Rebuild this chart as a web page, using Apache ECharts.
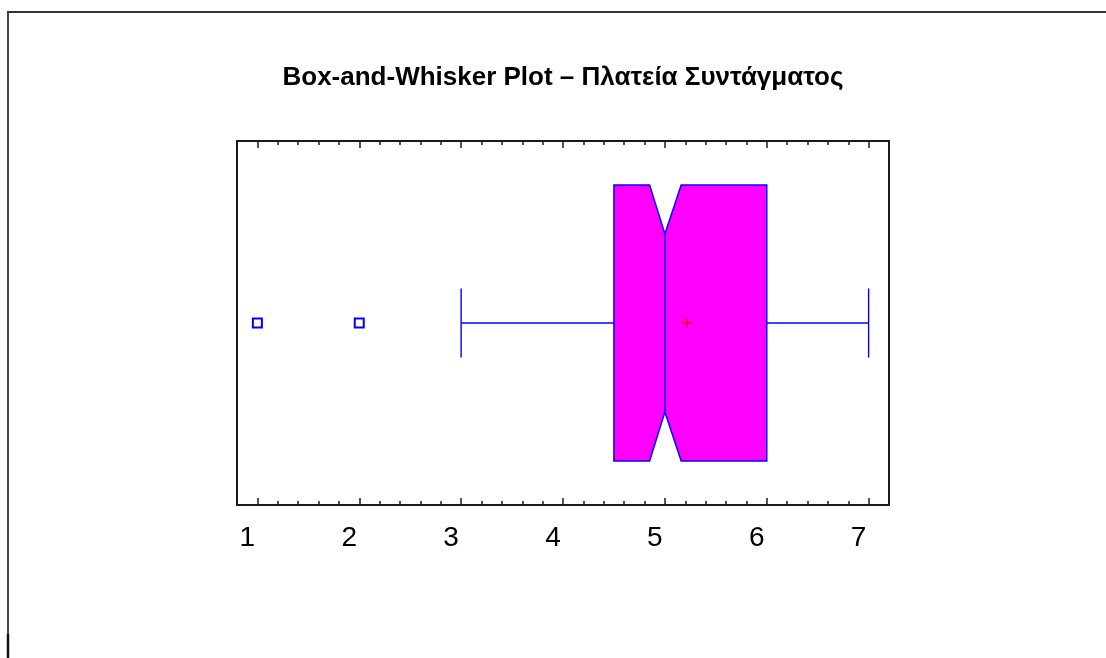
<!DOCTYPE html>
<html>
<head>
<meta charset="utf-8">
<title>Box-and-Whisker Plot</title>
<script src="https://cdn.jsdelivr.net/npm/echarts@6/dist/echarts.min.js"></script>
<style type="text/css">
  html, body {margin:0; padding:0; background:#fff;}
  #chart {width:1106px; height:658px;}
</style>
</head>
<body>
<div id="chart"></div>
<script type="text/javascript">
  // data
  var groupName = 'Πλατεία Συντάγματος';
  var xTicks = [1, 2, 3, 4, 5, 6, 7];
  var boxStats = [3, 4.5, 5, 6, 7];      // lower whisker, Q1, median, Q3, upper whisker
  var notchLimits = [4.85, 5.16];        // median notch
  var meanValue = [5.22];
  var outliers = [1, 2];

  // box geometry in y-axis units (axis runs -1..1)
  var BOX_H = 0.758, NOTCH_H = 0.489, CAP_H = 0.19;
  var BLUE = '#0000ff', MAGENTA = '#ff00ff', RED = '#ff0000', INK = '#1a1a1a';
  var FONT = 'Liberation Sans, Arial, sans-serif';

  function renderBox(params, api) {
    var lo = boxStats[0], q1 = boxStats[1], med = boxStats[2], q3 = boxStats[3], hi = boxStats[4];
    var nl = notchLimits[0], nh = notchLimits[1];
    var P = function (x, y) { return api.coord([x, y]); };
    var pts = [
      P(q1, BOX_H), P(nl, BOX_H), P(med, NOTCH_H), P(nh, BOX_H), P(q3, BOX_H),
      P(q3, -BOX_H), P(nh, -BOX_H), P(med, -NOTCH_H), P(nl, -BOX_H), P(q1, -BOX_H)
    ];
    var wStyle = {stroke: BLUE, lineWidth: 1.4};
    var m = P(meanValue[0], 0);
    var seg = function (a, b, st) {
      return {type: 'line', shape: {x1: a[0], y1: a[1], x2: b[0], y2: b[1]}, style: st};
    };
    return {
      type: 'group',
      children: [
        seg(P(lo, 0), P(q1, 0), wStyle),
        seg(P(q3, 0), P(hi, 0), wStyle),
        seg(P(lo, CAP_H), P(lo, -CAP_H), wStyle),
        seg(P(hi, CAP_H), P(hi, -CAP_H), wStyle),
        {type: 'polygon', shape: {points: pts}, style: {fill: MAGENTA, stroke: BLUE, lineWidth: 1.5}},
        seg(P(med, NOTCH_H), P(med, -NOTCH_H), {stroke: BLUE, lineWidth: 1.5}),
        seg([m[0] - 5, m[1]], [m[0] + 5, m[1]], {stroke: RED, lineWidth: 1.3}),
        seg([m[0], m[1] - 5], [m[0], m[1] + 5], {stroke: RED, lineWidth: 1.3})
      ]
    };
  }

  var chart = echarts.init(document.getElementById('chart'));

  function majorAxis(pos, showLabel) {
    return {
      type: 'value', position: pos, min: 0.8, max: 7.2,
      axisLine: {show: true, onZero: false, lineStyle: {color: INK, width: 2}},
      axisTick: {show: true, inside: true, length: 7, customValues: xTicks, lineStyle: {color: INK, width: 1.5}},
      axisLabel: {
        show: showLabel, customValues: xTicks, margin: 19, padding: [0, 20, 0, 0],
        fontFamily: FONT, fontSize: 28, color: '#000'
      },
      splitLine: {show: false}
    };
  }
  function minorAxis(pos) {
    return {
      type: 'value', position: pos, min: 0.8, max: 7.2, interval: 0.2,
      axisLine: {show: false, onZero: false},
      axisTick: {show: true, inside: true, length: 4, lineStyle: {color: INK, width: 1.5}},
      axisLabel: {show: false},
      splitLine: {show: false}
    };
  }
  function sideAxis(pos) {
    return {
      type: 'value', position: pos, min: -1, max: 1,
      axisLine: {show: true, onZero: false, lineStyle: {color: INK, width: 2}},
      axisTick: {show: false}, axisLabel: {show: false}, splitLine: {show: false}
    };
  }

  chart.setOption({
    animation: false,
    backgroundColor: '#fff',
    graphic: [
      // outer frame (top and left only, as in the original export)
      {type: 'line', shape: {x1: 7, y1: 12, x2: 1106, y2: 12}, style: {stroke: '#333', lineWidth: 2}},
      {type: 'line', shape: {x1: 8, y1: 12, x2: 8, y2: 634}, style: {stroke: '#444', lineWidth: 2}},
      {type: 'line', shape: {x1: 8, y1: 634, x2: 8, y2: 658}, style: {stroke: '#111', lineWidth: 2.5}},
      {
        type: 'text', x: 563, y: 78,
        style: {
          text: 'Box-and-Whisker Plot – ' + groupName,
          font: 'bold 26px ' + FONT, fill: '#000',
          textAlign: 'center', textVerticalAlign: 'middle'
        }
      }
    ],
    grid: {left: 237, right: 217, top: 141, bottom: 153},
    xAxis: [majorAxis('bottom', true), minorAxis('bottom'), majorAxis('top', false), minorAxis('top')],
    yAxis: [sideAxis('left'), sideAxis('right')],
    series: [
      {
        type: 'custom', name: groupName, xAxisIndex: 0, yAxisIndex: 0,
        renderItem: renderBox, data: [[boxStats[2], 0]], silent: true
      },
      {
        type: 'scatter', name: 'outliers', xAxisIndex: 0, yAxisIndex: 0,
        symbol: 'rect', symbolSize: 9,
        itemStyle: {color: '#fff', borderColor: BLUE, borderWidth: 2, opacity: 1},
        data: outliers.map(function (v) { return [v, 0]; })
      }
    ]
  });
</script>
</body>
</html>
